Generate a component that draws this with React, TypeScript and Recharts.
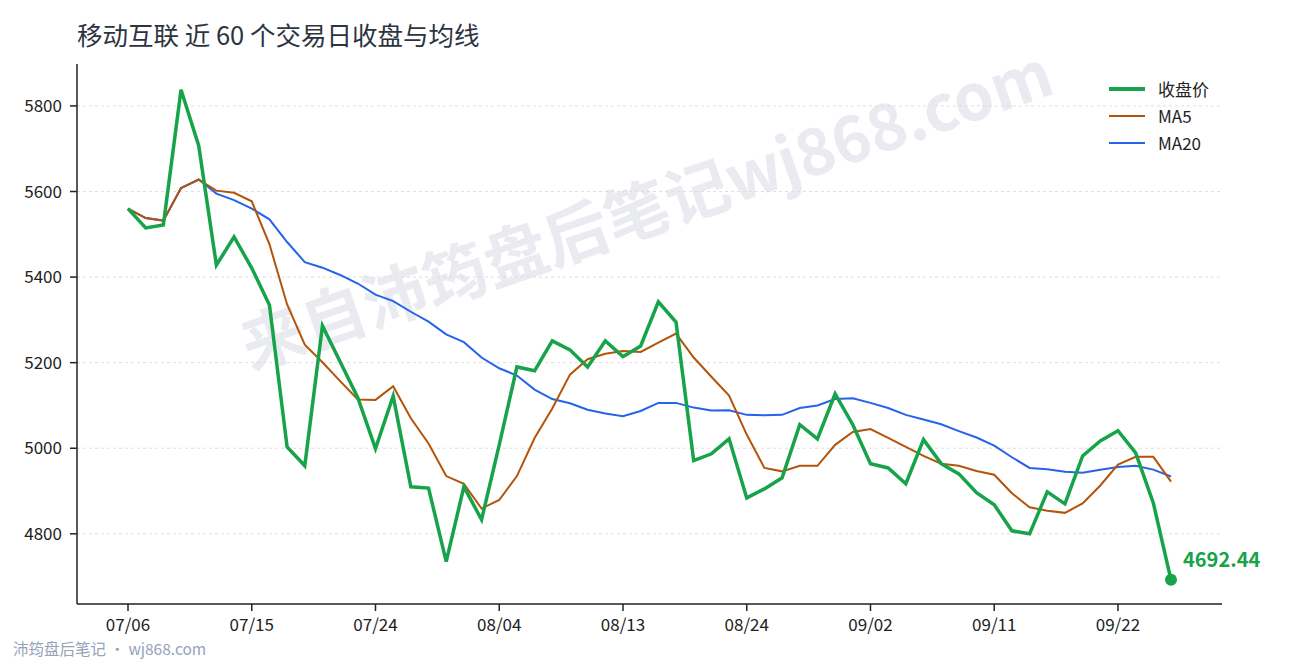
import { LineChart, Line, XAxis, YAxis, CartesianGrid } from 'recharts';

const dates = [
  '07/06', '07/07', '07/08', '07/09', '07/10', '07/13', '07/14', '07/15', '07/16', '07/17',
  '07/20', '07/21', '07/22', '07/23', '07/24', '07/27', '07/28', '07/29', '07/30', '07/31',
  '08/03', '08/04', '08/05', '08/06', '08/07', '08/10', '08/11', '08/12', '08/13', '08/14',
  '08/17', '08/18', '08/19', '08/20', '08/21', '08/24', '08/25', '08/26', '08/27', '08/28',
  '08/31', '09/01', '09/02', '09/03', '09/04', '09/07', '09/08', '09/09', '09/10', '09/11',
  '09/14', '09/15', '09/16', '09/17', '09/18', '09/21', '09/22', '09/23', '09/24', '09/25',
];

const closes = [
  5560, 5515, 5522, 5838, 5707, 5428, 5494, 5421, 5335, 5003,
  4959, 5286, 5202, 5118, 4999, 5122, 4910, 4907, 4735, 4910,
  4833, 5008, 5190, 5181, 5251, 5230, 5190, 5251, 5214, 5239,
  5342, 5295, 4971, 4987, 5022, 4884, 4905, 4931, 5055, 5022,
  5127, 5055, 4964, 4954, 4917, 5020, 4964, 4940, 4896, 4868,
  4807, 4800, 4898, 4870, 4982, 5017, 5041, 4989, 4872, 4692.44,
];

const ma5 = [
  5560, 5538, 5532, 5608, 5628, 5602, 5597, 5577, 5477, 5336,
  5242, 5201, 5157, 5114, 5113, 5145, 5070, 5011, 4935, 4917,
  4859, 4879, 4935, 5024, 5093, 5172, 5208, 5221, 5227, 5225,
  5247, 5268, 5212, 5167, 5123, 5032, 4954, 4946, 4959, 4959,
  5008, 5038, 5045, 5024, 5003, 4982, 4964, 4959, 4947, 4938,
  4895, 4862, 4854, 4849, 4871, 4913, 4962, 4980, 4980, 4922,
];

const ma20 = [
  5560, 5538, 5532, 5608, 5628, 5595, 5580, 5560, 5535, 5482,
  5435, 5422, 5405, 5385, 5359, 5344, 5319, 5296, 5266, 5248,
  5212, 5187, 5170, 5137, 5115, 5105, 5090, 5081, 5075, 5087,
  5106, 5106, 5095, 5088, 5089, 5078, 5077, 5078, 5094, 5100,
  5115, 5117, 5106, 5094, 5078, 5067, 5056, 5040, 5025, 5006,
  4979, 4954, 4951, 4945, 4943, 4950, 4956, 4959, 4950, 4934,
];

const xTicks = ['07/06', '07/15', '07/24', '08/04', '08/13', '08/24', '09/02', '09/11', '09/22'];
const yTicks = [4800, 5000, 5200, 5400, 5600, 5800];

const seriesNames = ['收盘价', 'MA5', 'MA20'];

const data = dates.map((d, i) => ({ date: d, close: closes[i], ma5: ma5[i], ma20: ma20[i] }));

const FONT = '"Noto Sans CJK SC", "Noto Sans", sans-serif';
const GREEN = '#16a34a';
const ORANGE = '#b45309';
const BLUE = '#2563eb';

const legendItems = [
  { name: seriesNames[0], color: GREEN, width: 4 },
  { name: seriesNames[1], color: ORANGE, width: 2 },
  { name: seriesNames[2], color: BLUE, width: 2 },
];

// only the last close gets a dot and its value
const EndDot = (props: any) => {
  const { cx, cy, index, value } = props;
  if (index !== closes.length - 1) return <g key={`dot-${index}`} />;
  return (
    <g key={`dot-${index}`}>
      <circle cx={cx} cy={cy} r={6} fill={GREEN} />
      <text x={cx + 12} y={cy - 13} fill={GREEN} fontSize={20} fontWeight={700} fontFamily={FONT}>
        {Number(value).toFixed(2)}
      </text>
    </g>
  );
};

export default function App() {
  return (
    <div style={{ position: 'absolute', left: 0, top: 0, width: 1290, height: 660, background: '#fff', fontFamily: FONT, overflow: 'hidden' }}>
      <div
        style={{
          position: 'absolute',
          left: 645,
          top: 205,
          transform: 'translate(-50%, -50%) rotate(-19deg)',
          whiteSpace: 'nowrap',
          fontSize: 64,
          fontWeight: 700,
          color: '#eaebf0',
        }}
      >
        来自沛筠盘后笔记wj868.com
      </div>
      <div style={{ position: 'absolute', left: 77, top: 16, fontSize: 25.5, color: '#2d3440', lineHeight: '36px' }}>
        移动互联 近 60 个交易日收盘与均线
      </div>
      <LineChart width={1290} height={660} data={data} margin={{ top: 64, right: 68, bottom: 0, left: 0 }}>
        <CartesianGrid vertical={false} syncWithTicks stroke="#dedede" strokeDasharray="3 3" />
        <XAxis
          dataKey="date"
          ticks={xTicks}
          interval={0}
          padding={{ left: 51, right: 51 }}
          height={56}
          tickSize={7}
          tickMargin={8}
          axisLine={{ stroke: '#222', strokeWidth: 1.5 }}
          tickLine={{ stroke: '#222', strokeWidth: 1.5 }}
          tick={{ fill: '#222', fontSize: 17, fontFamily: FONT }}
        />
        <YAxis
          domain={[4636, 5898]}
          ticks={yTicks}
          width={77}
          tickSize={7}
          tickMargin={8}
          axisLine={{ stroke: '#222', strokeWidth: 1.5 }}
          tickLine={{ stroke: '#222', strokeWidth: 1.5 }}
          tick={{ fill: '#222', fontSize: 17, fontFamily: FONT }}
        />
        <Line type="linear" dataKey="ma20" stroke={BLUE} strokeWidth={2} dot={false} isAnimationActive={false} />
        <Line type="linear" dataKey="ma5" stroke={ORANGE} strokeWidth={2} dot={false} isAnimationActive={false} />
        <Line type="linear" dataKey="close" stroke={GREEN} strokeWidth={3.5} dot={EndDot} activeDot={false} isAnimationActive={false} />
      </LineChart>
      <div style={{ position: 'absolute', left: 1109, top: 75 }}>
        {legendItems.map((it) => (
          <div key={it.name} style={{ display: 'flex', alignItems: 'center', height: 27 }}>
            <div style={{ width: 36, height: it.width, background: it.color, marginRight: 13 }} />
            <span style={{ fontSize: 17, color: '#222' }}>{it.name}</span>
          </div>
        ))}
      </div>
      <div style={{ position: 'absolute', left: 13, top: 637, fontSize: 15.5, color: '#94a3b8' }}>
        沛筠盘后笔记 · wj868.com
      </div>
    </div>
  );
}
